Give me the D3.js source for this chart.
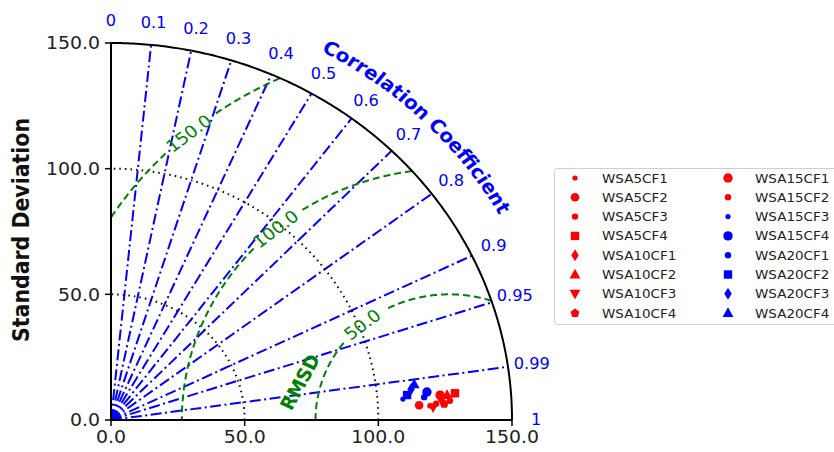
<!DOCTYPE html>
<html><head><meta charset="utf-8">
<script src="https://cdn.jsdelivr.net/npm/d3@7"></script>
<style>body{margin:0;background:#fff}svg{display:block}</style>
</head><body>
<svg id="chart" width="834" height="452"></svg>
<script>
// ---------------- data ----------------
const models = ["WSA5CF1","WSA5CF2","WSA5CF3","WSA5CF4","WSA10CF1","WSA10CF2","WSA10CF3","WSA10CF4",
                "WSA15CF1","WSA15CF2","WSA15CF3","WSA15CF4","WSA20CF1","WSA20CF2","WSA20CF3","WSA20CF4"];
const stdDev = [119.4,115.4,121.8,129.1,123.8,126.1,120.6,124.8,123.5,127.0,109.5,118.7,117.5,111.2,112.9,114.3];
const corrCoef = [0.9989,0.9987,0.9986,0.9966,0.9977,0.9969,0.9991,0.9987,0.9968,0.9982,0.9971,0.9956,0.9970,0.9960,0.9941,0.9922];
const refStd = 126.5;
const corrLineValues = [0.1,0.2,0.3,0.4,0.5,0.6,0.7,0.8,0.9,0.95,0.99];
const corrTickLabels = ["0","0.1","0.2","0.3","0.4","0.5","0.6","0.7","0.8","0.9","0.95","0.99","1"];
const stdTicks = [0,50,100,150];
const stdArcs = [50,100];
const rmsLevels = [50,100,150];
// styles
const modelColors = ["red","red","red","red","red","red","red","red","red","red","blue","blue","blue","blue","blue","blue"];
const modelMarkers = ["dot","circle","mdot","square","diamond","triangle","tridown","pentagon",
                      "bigcircle","mdot","dot","bigcircle","mdot","square","diamond","triangle"];

// ---------------- setup ----------------
const svg = d3.select("#chart");
const x = d3.scaleLinear().domain([0,150]).range([111,512]);
const y = d3.scaleLinear().domain([0,150]).range([420,43]);
const P = (r,t) => [x(r*Math.cos(t)), y(r*Math.sin(t))];
const line = d3.line();
const TS = 1.08; // horizontal text stretch of the reference
const green = "#008000";

function arcPts(r, t0, t1, n=200){
  return d3.range(n+1).map(i => P(r, t0 + (t1-t0)*i/n));
}

// correlation lines
svg.append("g").selectAll("path").data(corrLineValues).join("path")
  .attr("d", c => line([P(0,Math.acos(c)), P(150,Math.acos(c))]))
  .attr("fill","none").attr("stroke","blue").attr("stroke-width",2)
  .attr("stroke-dasharray","11,3.5,2,3.5");

// std dotted arcs
svg.append("g").selectAll("path").data(stdArcs).join("path")
  .attr("d", r => line(arcPts(r,0,Math.PI/2)))
  .attr("fill","none").attr("stroke","#111").attr("stroke-width",2)
  .attr("stroke-dasharray","1.6,4");

// RMS contours
const labTheta = 130.5*Math.PI/180;
const gapHalf = {50: 11.5, 100: 6.4, 150: 4.4};
rmsLevels.forEach(L => {
  const pts = d3.range(0,1801).map(i => i*Math.PI/1800)
    .map(t => ({t, dx: refStd + L*Math.cos(t), dy: L*Math.sin(t)}))
    .filter(p => p.dx >= 0 && Math.hypot(p.dx,p.dy) <= 150);
  const g = gapHalf[L]*Math.PI/180;
  const segA = pts.filter(p => p.t < labTheta - g);
  const segB = pts.filter(p => p.t > labTheta + g);
  [segA, segB].forEach(seg => {
    if (seg.length < 2) return;
    svg.append("path").attr("d", line(seg.map(p => [x(p.dx), y(p.dy)])))
      .attr("fill","none").attr("stroke",green).attr("stroke-width",2)
      .attr("stroke-dasharray","7,4");
  });
  // label
  const lx = x(refStd + L*Math.cos(labTheta)), ly = y(L*Math.sin(labTheta));
  const dpx = -Math.sin(labTheta)*(x(1)-x(0)), dpy = -Math.cos(labTheta)*(y(0)-y(1));
  let ang = Math.atan2(dpy,dpx)*180/Math.PI;
  if (ang > 90) ang -= 180; if (ang < -90) ang += 180;
  svg.append("text").attr("transform",`translate(${lx},${ly}) scale(${TS},1) rotate(${ang})`)
    .attr("text-anchor","middle").attr("dy","0.36em")
    .attr("font-family","DejaVu Sans").attr("font-size",17).attr("fill",green)
    .text(d3.format(".1f")(L));
});
svg.append("text").attr("transform",`translate(300,382) scale(${TS},1) rotate(-63)`)
  .attr("text-anchor","middle").attr("dy","0.36em")
  .attr("font-family","DejaVu Sans").attr("font-weight","bold").attr("font-size",18)
  .attr("fill",green).text("RMSD");

// outer arc
svg.append("path").attr("d", line(arcPts(150,0,Math.PI/2)))
  .attr("fill","none").attr("stroke","black").attr("stroke-width",2);

// axes
const ax = svg.append("g").attr("font-family","DejaVu Sans").attr("font-size",17.5).attr("fill","#222");
ax.append("line").attr("x1",x(0)).attr("x2",x(0)).attr("y1",y(150)).attr("y2",y(0)).attr("stroke","black").attr("stroke-width",2);
ax.append("line").attr("x1",x(0)).attr("x2",x(150)).attr("y1",y(0)).attr("y2",y(0)).attr("stroke","black").attr("stroke-width",2);
stdTicks.forEach(v => {
  ax.append("line").attr("x1",x(0)-6).attr("x2",x(0)).attr("y1",y(v)).attr("y2",y(v)).attr("stroke","black").attr("stroke-width",1.5);
  ax.append("line").attr("x1",x(v)).attr("x2",x(v)).attr("y1",y(0)).attr("y2",y(0)+6).attr("stroke","black").attr("stroke-width",1.5);
  ax.append("text").attr("transform",`translate(${x(0)-11},${y(v)}) scale(${TS},1)`)
    .attr("text-anchor","end").attr("dy","0.36em").text(d3.format(".1f")(v));
  ax.append("text").attr("transform",`translate(${x(v)},${y(0)+17}) scale(${TS},1)`)
    .attr("text-anchor","middle").attr("dy","0.36em").text(d3.format(".1f")(v));
});
svg.append("text").attr("transform",`translate(21,230) scale(${TS},1) rotate(-90)`)
  .attr("text-anchor","middle").attr("dy","0.36em")
  .attr("font-family","DejaVu Sans").attr("font-weight","bold").attr("font-size",20.5)
  .attr("fill","#111").text("Standard Deviation");

// correlation tick labels
svg.append("g").selectAll("text").data(corrTickLabels).join("text")
  .attr("transform", d => { const p = P(159, Math.acos(+d)); return `translate(${p[0]},${p[1]}) scale(${TS},1)`; })
  .attr("text-anchor","middle").attr("dy","0.36em")
  .attr("font-family","DejaVu Sans").attr("font-size",15).attr("fill","blue")
  .text(d => d);

// curved title (drawn in un-stretched space, then stretched like the rest of the text)
const X0 = x(0);
const tg = svg.append("g").attr("transform",`translate(${X0},0) scale(${TS},1) translate(${-X0},0)`);
const titlePts = arcPts(166.5, 81.4*Math.PI/180, 10*Math.PI/180).map(p => [X0 + (p[0]-X0)/TS, p[1]]);
tg.append("defs").append("path").attr("id","corrArc").attr("d", line(titlePts));
tg.append("text").attr("font-family","DejaVu Sans").attr("font-weight","bold").attr("font-size",18.6)
  .attr("fill","blue")
  .append("textPath").attr("href","#corrArc").attr("startOffset","50%").attr("text-anchor","middle")
  .text("Correlation Coefficient");

// markers
function markerPath(type){
  switch(type){
    case "dot": return circ(2.6);
    case "mdot": return circ(3.2);
    case "circle": return circ(4.3);
    case "bigcircle": return circ(4.7);
    case "square": return "M-4.2,-4.2H4.2V4.2H-4.2Z";
    case "diamond": return "M0,-6L3.7,0L0,6L-3.7,0Z";
    case "triangle": return "M0,-5.8L5.4,4L-5.4,4Z";
    case "tridown": return "M0,5.8L5.4,-4L-5.4,-4Z";
    case "pentagon": return d3.range(5).map(i => { const a = -Math.PI/2 + i*2*Math.PI/5; return (i?"L":"M") + (4.7*Math.cos(a)).toFixed(2)+","+(4.7*Math.sin(a)).toFixed(2); }).join("")+"Z";
  }
}
function circ(r){ return `M${r},0A${r},${r} 0 1,1 ${-r},0A${r},${r} 0 1,1 ${r},0Z`; }

svg.append("g").selectAll("path").data(models).join("path")
  .attr("transform",(m,i) => { const t = Math.acos(corrCoef[i]); const p = P(stdDev[i], t); return `translate(${p[0]},${p[1]})`; })
  .attr("d",(m,i) => markerPath(modelMarkers[i]))
  .attr("fill",(m,i) => modelColors[i]);

// legend
const lg = svg.append("g");
lg.append("rect").attr("x",554.5).attr("y",168.5).attr("width",300).attr("height",156).attr("rx",3)
  .attr("fill","white").attr("stroke","#cfcfcf");
models.forEach((m,i) => {
  const col = Math.floor(i/8), row = i%8;
  const mx = col ? 728 : 575, ty = 178 + row*19.3;
  lg.append("path").attr("transform",`translate(${mx},${ty})`).attr("d",markerPath(modelMarkers[i])).attr("fill",modelColors[i]);
  lg.append("text").attr("transform",`translate(${mx+27},${ty}) scale(${TS},1)`).attr("dy","0.36em")
    .attr("font-family","DejaVu Sans").attr("font-size",12.5).attr("fill","#222").text(m);
});
</script>
</body></html>
